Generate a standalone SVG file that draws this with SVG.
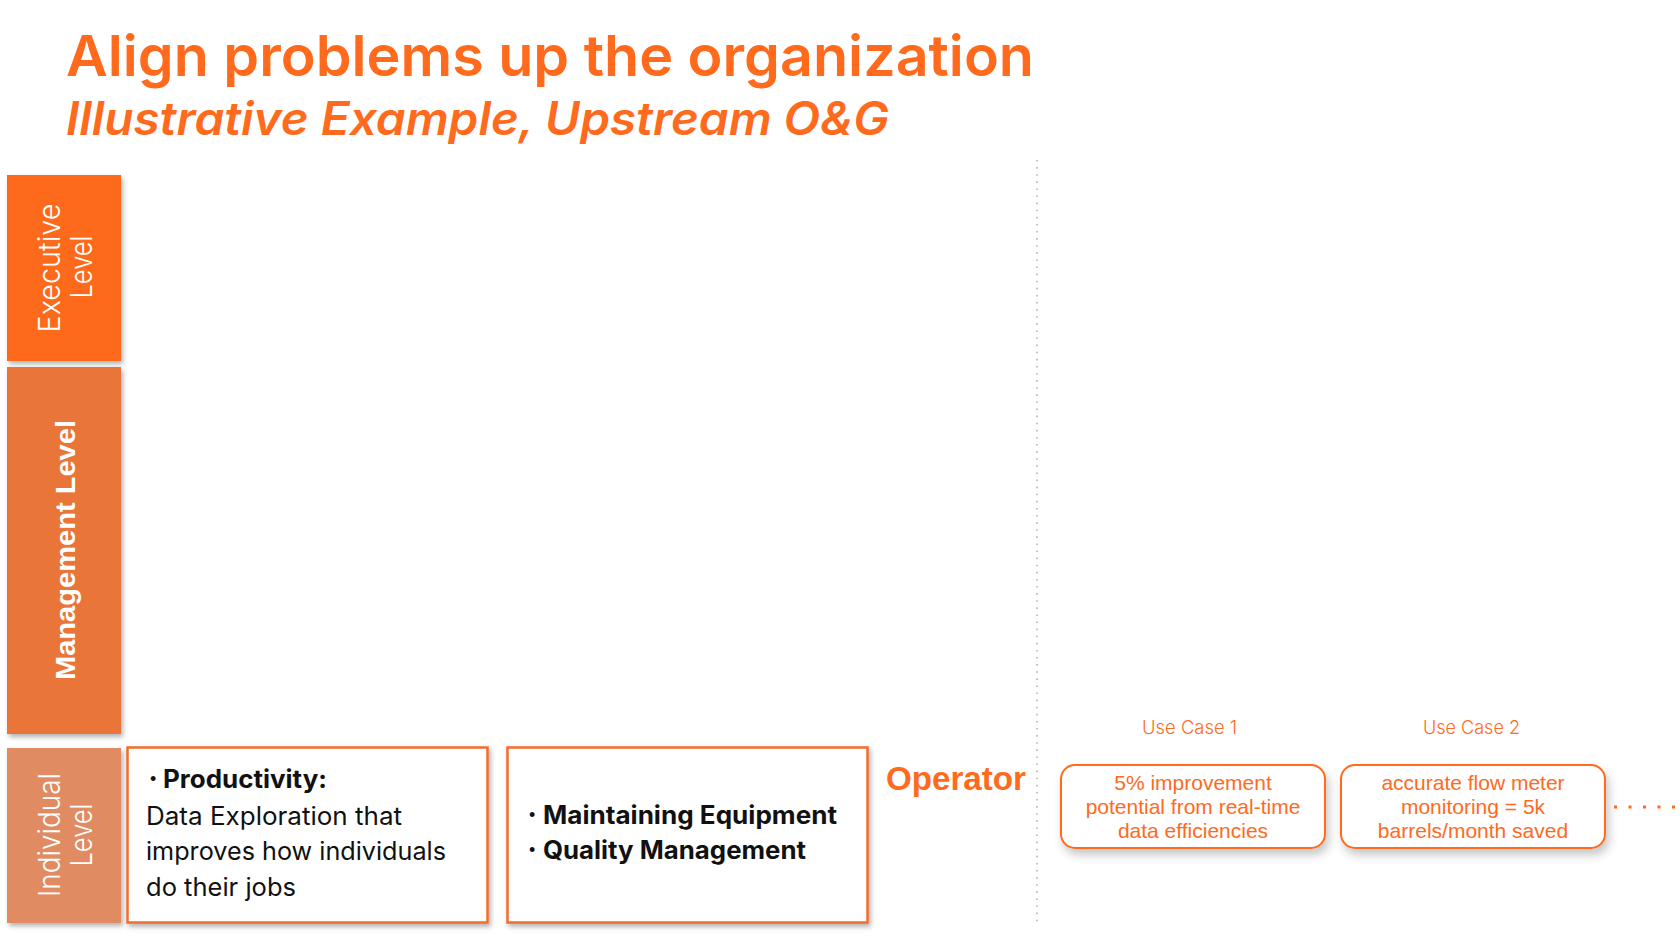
<svg xmlns="http://www.w3.org/2000/svg" width="1680" height="940" viewBox="0 0 1680 940">
  <style>
    .heading { font-family: Inter, "Liberation Sans", sans-serif; font-weight: 600; fill: #FF6A1C; }
    .lvl-light { font-family: Inter, "Liberation Sans", sans-serif; font-weight: 300; font-size: 30px; fill: #FFFFFF; }
    .lvl-bold { font-family: "Liberation Sans", Arial, sans-serif; font-weight: 700; font-size: 28.5px; fill: #FFFFFF; }
    .card { fill: #FFFFFF; stroke: #F26D2B; stroke-width: 2.5; }
    .body { font-family: Inter, "Liberation Sans", sans-serif; font-size: 25px; fill: #111111; }
    .body-bold { font-family: Inter, "Liberation Sans", sans-serif; font-weight: 700; font-size: 25px; fill: #111111; }
    .bullet { font-family: "Liberation Sans", Arial, sans-serif; font-size: 18px; fill: #111111; }
    .operator { font-family: "Liberation Sans", Arial, sans-serif; font-weight: 700; font-size: 33.5px; fill: #FF6A1C; }
    .uc-label { font-family: Inter, "Liberation Sans", sans-serif; font-weight: 300; font-size: 18.5px; fill: #FF6A1C; }
    .uc-box { fill: #FFFFFF; stroke: #FF6A1C; stroke-width: 2; }
    .uc-text { font-family: "Liberation Sans", Arial, sans-serif; font-size: 21px; fill: #FF6A1C; text-anchor: middle; }
  </style>
  <defs>
    <filter id="drop" x="-10%" y="-10%" width="125%" height="130%">
      <feDropShadow dx="2" dy="3" stdDeviation="2.5" flood-color="#000000" flood-opacity="0.3"/>
    </filter>
    <filter id="soft" x="-10%" y="-20%" width="125%" height="160%">
      <feDropShadow dx="3" dy="6" stdDeviation="5" flood-color="#000000" flood-opacity="0.22"/>
    </filter>
  </defs>

  <rect width="1680" height="940" fill="#FFFFFF"/>

  <!-- heading -->
  <g id="title">
    <text class="heading" x="66" y="76" font-size="57" textLength="968" lengthAdjust="spacingAndGlyphs">Align problems up the organization</text>
    <text class="heading" x="66" y="135" font-size="46" font-style="italic" textLength="823" lengthAdjust="spacingAndGlyphs">Illustrative Example, Upstream O&amp;G</text>
  </g>

  <!-- level bands -->
  <g id="level-executive">
    <rect x="7" y="175" width="114" height="186" fill="#FD6A1E" filter="url(#drop)"/>
    <text class="lvl-light" text-anchor="middle" transform="translate(60,268) rotate(-90)" textLength="129" lengthAdjust="spacingAndGlyphs">Executive</text>
    <text class="lvl-light" text-anchor="middle" transform="translate(92,267) rotate(-90)" textLength="63" lengthAdjust="spacingAndGlyphs">Level</text>
  </g>
  <g id="level-management">
    <rect x="7" y="367" width="114" height="367" fill="#E97537" filter="url(#drop)"/>
    <text class="lvl-bold" text-anchor="middle" transform="translate(75,550) rotate(-90)" textLength="260" lengthAdjust="spacingAndGlyphs">Management Level</text>
  </g>
  <g id="level-individual">
    <rect x="7" y="748" width="114" height="175" fill="#E08B62" filter="url(#drop)"/>
    <text class="lvl-light" text-anchor="middle" transform="translate(60,835) rotate(-90)" textLength="124" lengthAdjust="spacingAndGlyphs">Individual</text>
    <text class="lvl-light" text-anchor="middle" transform="translate(92,835) rotate(-90)" textLength="63" lengthAdjust="spacingAndGlyphs">Level</text>
  </g>

  <!-- individual-level cards -->
  <g id="card-productivity">
    <rect class="card" x="127.5" y="747.5" width="360" height="175" filter="url(#drop)"/>
    <text class="bullet" x="150" y="785">•</text>
    <text class="body-bold" x="163" y="788" textLength="164" lengthAdjust="spacingAndGlyphs">Productivity:</text>
    <text class="body" x="146" y="825" textLength="256" lengthAdjust="spacingAndGlyphs">Data Exploration that</text>
    <text class="body" x="146" y="860" textLength="300" lengthAdjust="spacingAndGlyphs">improves how individuals</text>
    <text class="body" x="146" y="896" textLength="150" lengthAdjust="spacingAndGlyphs">do their jobs</text>
  </g>
  <g id="card-operations">
    <rect class="card" x="507.5" y="747.5" width="360" height="175" filter="url(#drop)"/>
    <text class="bullet" x="529" y="821">•</text>
    <text class="body-bold" x="543" y="824" textLength="294" lengthAdjust="spacingAndGlyphs">Maintaining Equipment</text>
    <text class="bullet" x="529" y="856">•</text>
    <text class="body-bold" x="543" y="859" textLength="263" lengthAdjust="spacingAndGlyphs">Quality Management</text>
  </g>

  <g id="operator">
    <text class="operator" x="886" y="790" textLength="140" lengthAdjust="spacingAndGlyphs">Operator</text>
  </g>

  <!-- use cases -->
  <g id="use-case-1">
    <text class="uc-label" x="1142" y="734" textLength="95" lengthAdjust="spacingAndGlyphs">Use Case 1</text>
    <rect class="uc-box" x="1061" y="765" width="264" height="83" rx="14" filter="url(#soft)"/>
    <text class="uc-text" x="1193" y="790">5% improvement</text>
    <text class="uc-text" x="1193" y="814">potential from real-time</text>
    <text class="uc-text" x="1193" y="838">data efficiencies</text>
  </g>
  <g id="use-case-2">
    <text class="uc-label" x="1423" y="734" textLength="97" lengthAdjust="spacingAndGlyphs">Use Case 2</text>
    <rect class="uc-box" x="1341" y="765" width="264" height="83" rx="14" filter="url(#soft)"/>
    <text class="uc-text" x="1473" y="790">accurate flow meter</text>
    <text class="uc-text" x="1473" y="814">monitoring = 5k</text>
    <text class="uc-text" x="1473" y="838">barrels/month saved</text>
  </g>

  <!-- divider and continuation dots -->
  <g id="connectors">
    <line x1="1037" y1="160" x2="1037" y2="922" stroke="#B5B5B5" stroke-width="1.6" stroke-dasharray="1.6 5.5"/>
    <line x1="1614" y1="807" x2="1680" y2="807" stroke="#FF6A1C" stroke-width="3" stroke-dasharray="3 11.5"/>
  </g>
</svg>
